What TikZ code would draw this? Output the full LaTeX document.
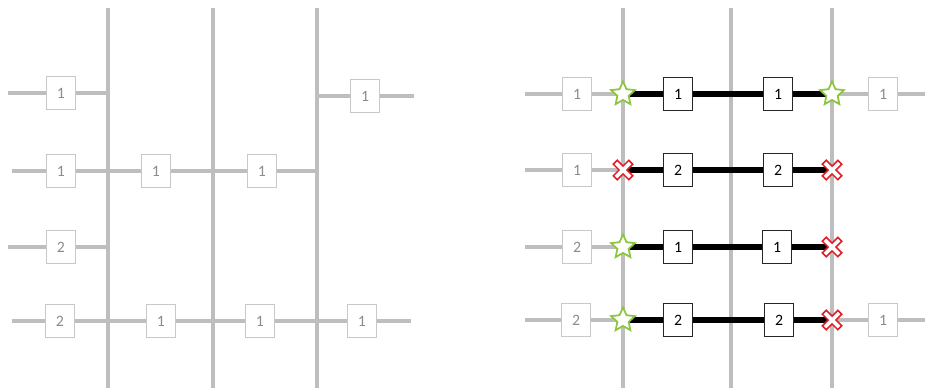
\documentclass[tikz,border=0pt]{standalone}
\usepackage{fontspec}
\setmainfont{Carlito}
\usetikzlibrary{shapes.geometric,positioning,calc}
\definecolor{wire}{RGB}{190,190,190}
\definecolor{boxgrey}{RGB}{200,200,200}
\definecolor{txtgrey}{RGB}{140,140,140}
\definecolor{okgreen}{RGB}{140,198,63}
\definecolor{badred}{RGB}{225,30,40}
\tikzset{
bus/.style = {draw=wire, line width=2.6pt},
feeder/.style = {draw=wire, line width=2.6pt},
route/.style = {draw=black, line width=3pt},
gblock/.style = {draw=boxgrey, fill=white, rectangle, inner sep=0pt, minimum width=0.58cm, minimum height=0.66cm, text=txtgrey, font=\fontsize{9}{10}\selectfont},
bblock/.style = {draw=black!85, line width=0.9pt, fill=white, rectangle, inner sep=0pt, minimum width=0.58cm, minimum height=0.66cm, font=\fontsize{9}{10}\selectfont},
good/.style = {star, star points=5, star point ratio=2.1, draw=okgreen, fill=white, line width=1pt, inner sep=0pt, minimum size=0.5cm},
bad/.pic = {\draw[badred, fill=white, line width=0.9pt, rotate=45]
  (0.055cm,0.22cm) -- (0.055cm,0.055cm) -- (0.22cm,0.055cm) -- (0.22cm,-0.055cm) -- (0.055cm,-0.055cm) -- (0.055cm,-0.22cm)
  -- (-0.055cm,-0.22cm) -- (-0.055cm,-0.055cm) -- (-0.22cm,-0.055cm) -- (-0.22cm,0.055cm) -- (-0.055cm,0.055cm) -- (-0.055cm,0.22cm) -- cycle;}
}

\begin{document}
\begin{tikzpicture}[x=0.02cm, y=-0.02cm]
	\useasboundingbox (0,0) rectangle (925,389);

	\foreach \x/\n in {108/a,213/b,317/c,623/d,731/e,832/f} {
		\coordinate (top\n) at (\x,8);
		\coordinate (bot\n) at (\x,388);
		\draw [bus] (top\n) -- (bot\n);
	}

	% left: feeders before the change
	\coordinate (l1s) at (8,93);
	\coordinate (l2s) at (12,171);
	\coordinate (l3s) at (8,247);
	\coordinate (l4s) at (12,321);
	\coordinate (l5s) at (414,96);
	\coordinate (l6s) at (411,321);

	\node [gblock] (l11) at (61,93) {1};
	\node [gblock] (l21) at (61,171) {1};
	\node [gblock] (l22) at (156,171) {1};
	\node [gblock] (l23) at (262,171) {1};
	\node [gblock] (l31) at (61,247) {2};
	\node [gblock] (l41) at (60,321) {2};
	\node [gblock] (l42) at (161,321) {1};
	\node [gblock] (l43) at (260,321) {1};
	\node [gblock] (l44) at (362,321) {1};
	\node [gblock] (l51) at (365,96) {1};

	\draw [feeder] (l1s) -- (l11) -- (l1s -| topa);
	\draw [feeder] (l2s) -- (l21) -- (l22) -- (l23) -- (l2s -| topc);
	\draw [feeder] (l3s) -- (l31) -- (l3s -| topa);
	\draw [feeder] (l4s) -- (l41) -- (l42) -- (l43) -- (l44) -- (l6s);
	\draw [feeder] (l5s -| topc) -- (l51) -- (l5s);

	% right: paths through the middle
	\foreach \r/\y in {1/94,2/170,3/247,4/320} {
		\coordinate (r\r s) at (525,\y);
		\coordinate (r\r a) at (r\r s -| topd);
		\coordinate (r\r b) at (r\r s -| topf);
	}
	\coordinate (r1e) at (925,94);
	\coordinate (r4e) at (925,320);

	\node [gblock] (r1g) at (577,94) {1};
	\node [gblock] (r2g) at (577,170) {1};
	\node [gblock] (r3g) at (577,247) {2};
	\node [gblock] (r4g) at (576,320) {2};
	\node [gblock] (r1h) at (883,94) {1};
	\node [gblock] (r4h) at (883,320) {1};

	\draw [feeder] (r1s) -- (r1g) -- (r1a);
	\draw [feeder] (r2s) -- (r2g) -- (r2a);
	\draw [feeder] (r3s) -- (r3g) -- (r3a);
	\draw [feeder] (r4s) -- (r4g) -- (r4a);
	\draw [feeder] (r1b) -- (r1h) -- (r1e);
	\draw [feeder] (r4b) -- (r4h) -- (r4e);

	\node [bblock] (r1x) at (678,94) {1};
	\node [bblock] (r1y) at (778,94) {1};
	\node [bblock] (r2x) at (678,170) {2};
	\node [bblock] (r2y) at (778,170) {2};
	\node [bblock] (r3x) at (678,247) {1};
	\node [bblock] (r3y) at (777,247) {1};
	\node [bblock] (r4x) at (678,320) {2};
	\node [bblock] (r4y) at (779,320) {2};

	\draw [route] (r1a) -- (r1x) -- (r1y) -- (r1b);
	\draw [route] (r2a) -- (r2x) -- (r2y) -- (r2b);
	\draw [route] (r3a) -- (r3x) -- (r3y) -- (r3b);
	\draw [route] (r4a) -- (r4x) -- (r4y) -- (r4b);

	\node [good] (s1a) at (r1a) {};
	\node [good] (s1b) at (r1b) {};
	\node [good] (s3a) at (r3a) {};
	\node [good] (s4a) at (r4a) {};
	\pic at (r2a) {bad};
	\pic at (r2b) {bad};
	\pic at (r3b) {bad};
	\pic at (r4b) {bad};
\end{tikzpicture}
\end{document}
